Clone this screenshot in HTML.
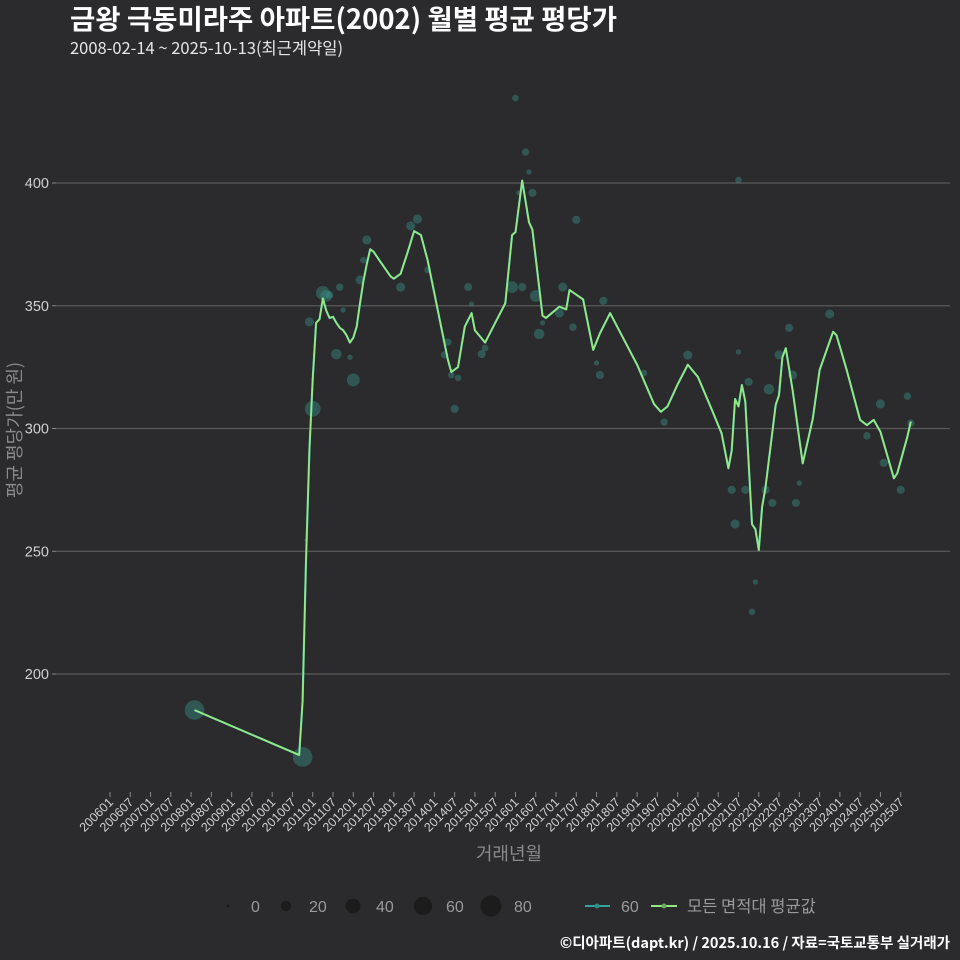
<!DOCTYPE html>
<html><head><meta charset="utf-8"><style>
html,body{margin:0;padding:0;background:#2b2a2c;}
svg{display:block;font-family:"Liberation Sans","Noto Sans CJK KR",sans-serif;}
</style></head><body>
<svg id="chart" width="960" height="960" viewBox="0 0 960 960" xmlns="http://www.w3.org/2000/svg">
<rect width="960" height="960" fill="#2b2a2c"/>
<text x="70" y="29" font-size="27.5" font-weight="bold" fill="#ffffff" font-family="Noto Sans CJK KR, sans-serif">금왕 극동미라주 아파트(2002) 월별 평균 평당가</text>
<text x="70" y="54" font-size="16.5" fill="#e6e6e6" font-family="Noto Sans CJK KR, sans-serif">2008-02-14 ~ 2025-10-13(최근계약일)</text>
<g id="grid"></g>
<g id="yaxis"></g>
<g id="xaxis"></g>
<g id="points"></g>
<g id="lines"></g>
<text x="0" y="0" transform="translate(14,430) rotate(-90)" text-anchor="middle" dominant-baseline="central" font-size="18" fill="#8a8a8a" font-family="Noto Sans CJK KR, sans-serif">평균 평당가(만 원)</text>
<text x="509" y="860" text-anchor="middle" font-size="18" fill="#8a8a8a" font-family="Noto Sans CJK KR, sans-serif">거래년월</text>
<g id="legend"></g>
<text x="950" y="948" text-anchor="end" font-size="14.5" font-weight="bold" fill="#ffffff" font-family="Noto Sans CJK KR, sans-serif">©디아파트(dapt.kr) / 2025.10.16 / 자료=국토교통부 실거래가</text>
</svg>
<script>
// month index = months since 2006-01
const lineMonths = [25,56,57,58,59,60,61,62,63,64,65,66,67,68,69,70,71,72,73,74,75,76,77,78,79,80,81,82,83,84,86,88,90,92,94,96,98,100,101,103,105,107,108,111,114,117,119,120,122,124,125,128,129,133,135,136,140,143,145,148,156,161,163,165,168,171,174,178,181,183,184,185,186,187,188,190,191,192,193,194,197,198,199,200,202,205,208,210,214,215,218,222,224,226,228,232,233,236,237];
const lineValues = [185.3,167,189,246,291,320,343,344.5,353,348,345,345.5,343,341,340,338,335,337,341.5,351,360,367,373,372,370,368,366,364,362,361,363,371.5,380.4,378.8,368.6,355,341.5,328,323,325,341.5,347,340,335,343,351,378.8,380,401,384,381,346,345,349.6,348.5,356.4,352.6,332,338.8,347,326,310,306.8,309,318,326,321,308,298,283.8,291,312,309,317.7,311,261,259,250.5,268,276,309.6,313.6,329,332.7,315.7,285.8,304,323.8,339.4,338,324,303.5,301.4,303.5,298.7,279.7,281.8,296.7,302.8];
const pointMonths = [25,57,60,58,63,64,59,68,65,69,67,71,72,76,75,74,86,89,91,94,99,100,101,103,102,106,107,110,111,119,122,126,127,128,120,123,124,125,121,138,134,133,137,146,145,144,158,164,171,213,201,198,186,189,195,184,188,194,185,196,203,204,191,190,202,228,236,224,229,234,237,186];
const pointValues = [185.3,166.2,308,254.6,355.2,354,343.4,357.6,354.4,348.3,330.3,329,319.8,376.8,368.6,360.5,357.6,382.5,385.3,364.6,330,335.2,321.8,320.6,308,357.6,350.7,330.3,332.8,357.6,357.6,354,338.5,343,434.6,412.6,404.5,396,396,385,357.6,347,341.3,352,321.8,326.7,322.6,302.6,329.9,346.6,341,330,331.2,319,316,275,275,275,261.1,269.7,269.7,277.8,237.5,225.3,321.8,310,313.2,297,286,275,302.2,401.2];
const pointCounts = [70,70,45,1,35,25,15,10,10,5,20,5,30,15,8,15,15,15,15,8,10,10,8,8,12,12,5,12,8,25,12,25,20,5,8,10,5,12,5,12,15,15,10,12,12,5,8,10,15,15,12,15,5,12,20,12,12,12,15,12,12,5,5,8,15,15,10,10,12,12,10,8];
const yTicks = [200,250,300,350,400];
const xTickLabels = ["200601","200607","200701","200707","200801","200807","200901","200907","201001","201007","201101","201107","201201","201207","201301","201307","201401","201407","201501","201507","201601","201607","201701","201707","201801","201807","201901","201907","202001","202007","202101","202107","202201","202207","202301","202307","202401","202407","202501","202507"];
const legendSizes = [0,20,40,60,80];

const NS = "http://www.w3.org/2000/svg";
const xS = m => 110 + m * 3.379;
const yS = v => 183 + (400 - v) * 2.455;
const rS = c => Math.max(1.5, Math.sqrt(c / 80) * 10.5);
function mk(tag, attrs, parent){const e=document.createElementNS(NS,tag);for(const k in attrs)e.setAttribute(k,attrs[k]);parent.appendChild(e);return e;}

const grid=document.getElementById('grid'), yax=document.getElementById('yaxis'), xax=document.getElementById('xaxis');
yTicks.forEach(t=>{
  const g=mk('line',{x1:56,x2:950,y1:yS(t),y2:yS(t),stroke:'#5a5a5a','stroke-width':1.3},grid);
  
  
  const tk=mk('line',{x1:52,x2:56,y1:yS(t),y2:yS(t),stroke:'#888','stroke-width':1},yax);
  
  
  const tx=mk('text',{x:49,y:yS(t)+5,'text-anchor':'end','font-size':14.5,fill:'#d0d0d0'},yax);
  
  
  tx.textContent=t;
});
xTickLabels.forEach((l,i)=>{
  const x=xS(i*6);
  const tk=mk('line',{x1:x,x2:x,y1:792,y2:797,stroke:'#888','stroke-width':1},xax);
  
  
  const tx=mk('text',{x:0,y:0,transform:`translate(${x+4},${803}) rotate(-45)`,'text-anchor':'end','font-size':12.5,fill:'#d0d0d0'},xax);
  
  
  tx.textContent=l;
});
const pg=document.getElementById('points');
pointMonths.forEach((m,i)=>{
  const c=mk('circle',{cx:xS(m),cy:yS(pointValues[i]),r:rS(pointCounts[i]),fill:'#3a8f84','fill-opacity':0.45},pg);
  
  
});
const lg=document.getElementById('lines');
const d=lineMonths.map((m,i)=>(i?'L':'M')+xS(m).toFixed(1)+','+yS(lineValues[i]).toFixed(1)).join(' ');
const tl=mk('path',{d:d,fill:'none',stroke:'#2fa69a','stroke-width':2.2,'stroke-linejoin':'round'},lg);


const gl=mk('path',{d:d,fill:'none',stroke:'#96e884','stroke-width':1.8,'stroke-linejoin':'round'},lg);



const leg=document.getElementById('legend');
const lx=[228,286,353,423,491];
legendSizes.forEach((s,i)=>{
  const c=mk('circle',{cx:lx[i],cy:906,r:rS(s),fill:'#1c1c1c'},leg);
  
  
  const t=mk('text',{x:lx[i]+23,y:912,'font-size':16,fill:'#9a9a9a'},leg);
  
  
  t.textContent=s;
});
const l1=mk('line',{x1:585,x2:610,y1:906,y2:906,stroke:'#2fa69a','stroke-width':2},leg);


mk('circle',{cx:597,cy:906,r:2.5,fill:'#2f8f86'},leg);
const t1=mk('text',{x:621,y:912,'font-size':16,fill:'#9a9a9a'},leg);


t1.textContent='60';
const l2=mk('line',{x1:651,x2:677,y1:906,y2:906,stroke:'#96e884','stroke-width':2},leg);


mk('circle',{cx:664,cy:906,r:2.5,fill:'#6aa860'},leg);
const t2=mk('text',{x:687,y:912,'font-size':16.5,fill:'#9a9a9a','font-family':'Noto Sans CJK KR, sans-serif'},leg);


t2.textContent='모든 면적대 평균값';
</script>
</body></html>
